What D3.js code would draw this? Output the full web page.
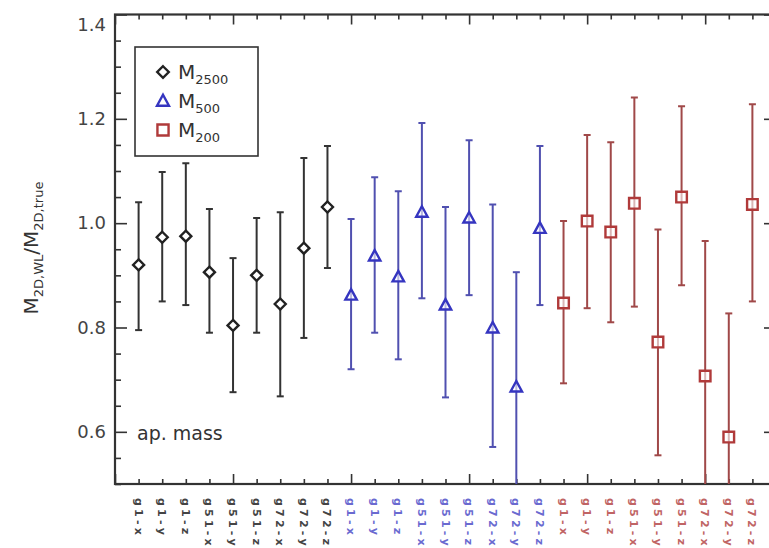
<!DOCTYPE html>
<html><head><meta charset="utf-8">
<script src="https://cdn.jsdelivr.net/npm/d3@7"></script>
<style>body{margin:0;background:#fff}svg{display:block}text{font-family:"DejaVu Sans",Arial,sans-serif}</style>
</head><body>
<svg id="c" width="769" height="548"></svg>
<script>
const categories = ["g1-x","g1-y","g1-z","g51-x","g51-y","g51-z","g72-x","g72-y","g72-z"];
const seriesNames = ["2500","500","200"];
const m2500 = [0.920,0.973,0.975,0.906,0.804,0.900,0.845,0.952,1.031];
const m2500Hi = [1.040,1.098,1.115,1.027,0.933,1.010,1.021,1.125,1.148];
const m2500Lo = [0.795,0.850,0.843,0.790,0.676,0.790,0.668,0.780,0.914];
const m500 = [0.862,0.937,0.897,1.021,0.843,1.010,0.799,0.686,0.990];
const m500Hi = [1.008,1.088,1.061,1.192,1.031,1.159,1.036,0.906,1.148];
const m500Lo = [0.720,0.790,0.739,0.856,0.666,0.862,0.571,0.460,0.843];
const m200 = [0.847,1.004,0.983,1.038,0.772,1.050,0.707,0.590,1.036];
const m200Hi = [1.004,1.169,1.155,1.241,0.988,1.224,0.966,0.827,1.228];
const m200Lo = [0.693,0.837,0.810,0.840,0.555,0.881,0.450,0.350,0.850];
const yTicks = [0.6,0.8,1.0,1.2,1.4];

const colors = ["#222","#3535c0","#b03a3a"];
const barColors = ["#333","#5050b0","#a04848"];
const labelColors = ["#444","#6a6ad0","#c06464"];

const svg = d3.select("#c");
const x = d3.scaleLinear().domain([0,28]).range([115,776]);
const y = d3.scaleLinear().domain([0.5,1.4]).range([484,14.5]);
const X0=115, X1=776, Y0=484, Y1=14.5;

svg.append("defs").append("clipPath").attr("id","clip")
  .append("rect").attr("x",X0).attr("y",Y1).attr("width",X1-X0).attr("height",Y0-Y1);

const axCol="#333";
const minorY = d3.range(0.5,1.4001,0.05).filter(v=>!yTicks.some(t=>Math.abs(t-v)<1e-6));
const majorX = d3.range(0,29,5), minorX = d3.range(0,29).filter(v=>v%5!==0);
function fmt(v){return d3.format(".1f")(v);}

svg.append("g").attr("transform",`translate(${X0},0)`)
  .call(d3.axisRight(y).tickValues(yTicks).tickSize(12).tickFormat(""));
svg.append("g").attr("transform",`translate(${X0},0)`)
  .call(d3.axisRight(y).tickValues(minorY).tickSize(6).tickFormat(""));
svg.append("g").attr("transform",`translate(${X1},0)`)
  .call(d3.axisLeft(y).tickValues(yTicks).tickSize(12).tickFormat(""));
svg.append("g").attr("transform",`translate(${X1},0)`)
  .call(d3.axisLeft(y).tickValues(minorY).tickSize(6).tickFormat(""));
svg.append("g").attr("transform",`translate(0,${Y0})`)
  .call(d3.axisTop(x).tickValues(majorX).tickSize(10).tickFormat(""));
svg.append("g").attr("transform",`translate(0,${Y0})`)
  .call(d3.axisTop(x).tickValues(minorX).tickSize(5).tickFormat(""));
svg.append("g").attr("transform",`translate(0,${Y1})`)
  .call(d3.axisBottom(x).tickValues(majorX).tickSize(10).tickFormat(""));
svg.append("g").attr("transform",`translate(0,${Y1})`)
  .call(d3.axisBottom(x).tickValues(minorX).tickSize(5).tickFormat(""));
svg.selectAll(".domain").remove();
svg.selectAll(".tick line").attr("stroke",axCol).attr("stroke-width",1.6);
svg.append("rect").attr("x",X0).attr("y",Y1).attr("width",X1-X0).attr("height",Y0-Y1)
  .attr("fill","none").attr("stroke",axCol).attr("stroke-width",2.2);

// y tick labels
svg.append("g").selectAll("text").data(yTicks).join("text")
  .attr("x",106).attr("y",d=>Math.max(y(d)+6,31)).attr("text-anchor","end")
  .attr("font-size",18).attr("fill","#444").text(fmt);

// y label
const yl = svg.append("text").attr("transform","translate(38,248) rotate(-90)")
  .attr("text-anchor","middle").attr("font-size",20).attr("fill","#333");
yl.append("tspan").text("M");
yl.append("tspan").attr("font-size",13).attr("dy",5).text("2D,WL");
yl.append("tspan").attr("dy",-5).text("/M");
yl.append("tspan").attr("font-size",13).attr("dy",5).text("2D,true");

// data
const all = [[m2500,m2500Hi,m2500Lo],[m500,m500Hi,m500Lo],[m200,m200Hi,m200Lo]];
const pts = [];
all.forEach((s,si)=>{
  categories.forEach((c,ci)=>{
    pts.push({si, label:c, pos: si*categories.length+ci+1, v:s[0][ci], hi:s[1][ci], lo:s[2][ci]});
  });
});

function markerPath(si, scale){
  const k = scale||1;
  if(si===0){ const r=5.5*k; return `M0,${-r}L${r},0L0,${r}L${-r},0Z`; }
  if(si===1){ const r=6*k; return `M0,${-r}L${r*0.95},${r*0.75}L${-r*0.95},${r*0.75}Z`; }
  const r=5.3*k; return `M${-r},${-r}H${r}V${r}H${-r}Z`;
}

const gp = svg.append("g").attr("clip-path","url(#clip)");
gp.selectAll("line.eb").data(pts).join("line").attr("class","eb")
  .attr("x1",d=>x(d.pos)).attr("x2",d=>x(d.pos)).attr("y1",d=>y(d.hi)).attr("y2",d=>y(d.lo))
  .attr("stroke",d=>barColors[d.si]).attr("stroke-width",2);
gp.selectAll("line.cap").data(pts.flatMap(d=>[{d,v:d.hi},{d,v:d.lo}])).join("line").attr("class","cap")
  .attr("x1",e=>x(e.d.pos)-3.5).attr("x2",e=>x(e.d.pos)+3.5).attr("y1",e=>y(e.v)).attr("y2",e=>y(e.v))
  .attr("stroke",e=>barColors[e.d.si]).attr("stroke-width",2);
gp.selectAll("path.pt").data(pts).join("path").attr("class","pt")
  .attr("transform",d=>`translate(${x(d.pos)},${y(d.v)})`)
  .attr("d",d=>markerPath(d.si))
  .attr("fill","#fff").attr("fill-opacity",d=>d.si===0?1:0.6).attr("stroke",d=>colors[d.si]).attr("stroke-width",2.4);

// x labels
svg.append("g").selectAll("text").data(pts).join("text")
  .attr("transform",d=>`translate(${x(d.pos)-4},498) rotate(90)`)
  .attr("font-size",11).attr("font-weight","bold").attr("letter-spacing",3.2).attr("fill",d=>labelColors[d.si])
  .text(d=>d.label);

// ap. mass
svg.append("text").attr("x",137).attr("y",440).attr("font-size",19).attr("fill","#333").text("ap. mass");

// legend
const lg = svg.append("g");
lg.append("rect").attr("x",135).attr("y",47).attr("width",123).attr("height",109)
  .attr("fill","#fff").attr("stroke","#333").attr("stroke-width",1.6);
seriesNames.forEach((n,i)=>{
  const ly = 72 + i*29;
  lg.append("path").attr("transform",`translate(163,${ly})`)
    .attr("d",markerPath(i,1.05))
    .attr("fill","none").attr("stroke",colors[i]).attr("stroke-width",2.4);
  const t = lg.append("text").attr("x",178).attr("y",ly+7).attr("font-size",20).attr("fill","#333");
  t.append("tspan").text("M");
  t.append("tspan").attr("font-size",13).attr("dy",5).text(n);
});
</script>
</body></html>
